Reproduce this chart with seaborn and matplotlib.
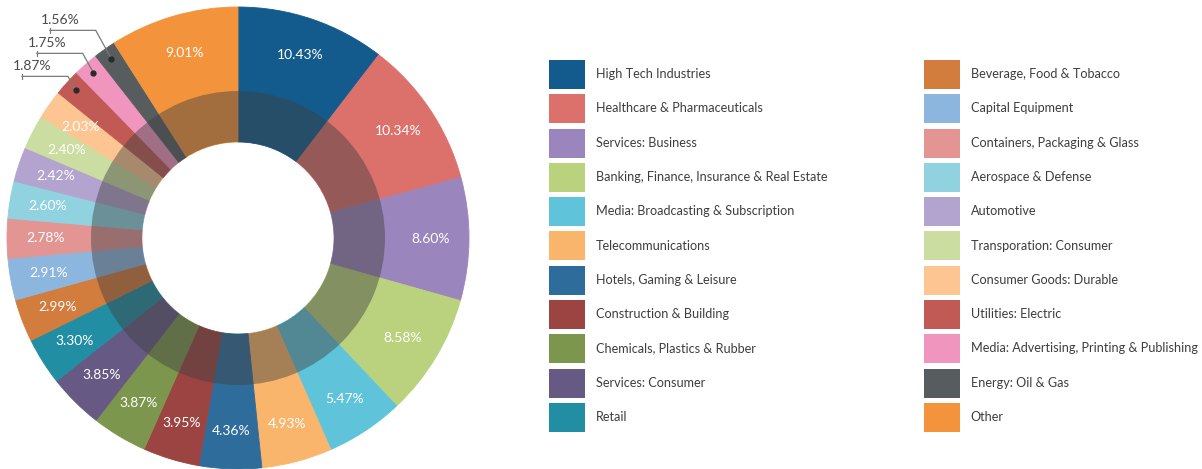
import numpy as np
import matplotlib
matplotlib.use("Agg")
import matplotlib.pyplot as plt
from matplotlib.patches import Patch
import seaborn as sns

# sectors in chart order (clockwise from 12 o'clock)
sectors = [
    "High Tech Industries", "Healthcare & Pharmaceuticals", "Services: Business",
    "Banking, Finance, Insurance & Real Estate", "Media: Broadcasting & Subscription",
    "Telecommunications", "Hotels, Gaming & Leisure", "Construction & Building",
    "Chemicals, Plastics & Rubber", "Services: Consumer", "Retail",
    "Beverage, Food & Tobacco", "Capital Equipment", "Containers, Packaging & Glass",
    "Aerospace & Defense", "Automotive", "Transporation: Consumer",
    "Consumer Goods: Durable", "Utilities: Electric",
    "Media: Advertising, Printing & Publishing", "Energy: Oil & Gas", "Other",
]
shares = [10.43, 10.34, 8.60, 8.58, 5.47, 4.93, 4.36, 3.95, 3.87, 3.85, 3.30,
          2.99, 2.91, 2.78, 2.60, 2.42, 2.40, 2.03, 1.87, 1.75, 1.56, 9.01]
sector_colors = [
    "#125b8c", "#dc716c", "#9b85bd", "#bad27e", "#5fc4da", "#f9b56b",
    "#2e6c9b", "#9b4441", "#7c974d", "#665a85", "#218ea3",
    "#d27c3e", "#8cb6de", "#e39594", "#90d2e0", "#b3a3cf", "#cbdda0",
    "#fdc592", "#c15a55", "#ef95be", "#575c5f", "#f3943d",
]
# small slices labelled outside with leader lines
outside = ["Utilities: Electric", "Media: Advertising, Printing & Publishing",
           "Energy: Oil & Gas"]

sns.set_theme(style="white")
plt.rcParams["font.family"] = ["Lato", "DejaVu Sans"]
palette = sns.color_palette(sector_colors)

W, H = 1202, 469
fig = plt.figure(figsize=(W / 100, H / 100), dpi=100)
R_PX = 231
ax = fig.add_axes([7 / W, 0, 2 * R_PX / W, 2 * R_PX / H])

hole = 96 / R_PX
mid_ring = 147 / R_PX

wedges, _ = ax.pie(shares, colors=palette, startangle=90, counterclock=False,
                   radius=1, wedgeprops=dict(width=1 - hole, linewidth=0.6))
for w in wedges:
    w.set_edgecolor(w.get_facecolor())

# darker inner band
ax.pie([1], colors=["#404040"], radius=mid_ring,
       wedgeprops=dict(width=mid_ring - hole, linewidth=0, alpha=0.45))

# percentage labels
cum = np.concatenate([[0], np.cumsum(shares)])
px = 1 / R_PX
level = None
for i, (name, v) in enumerate(zip(sectors, shares)):
    ang = np.deg2rad(90 - (cum[i] + v / 2) * 3.6)
    if name in outside:
        x0, y0 = 0.95 * np.cos(ang), 0.95 * np.sin(ang)
        # stack the callout levels 23px apart
        level = y0 + 14 * px if level is None else level + 23 * px
        xe = x0 - (level - y0) * 0.55
        xt = xe - 46 * px
        ax.plot([x0, xe, xt], [y0, level, level], color="#7a7a7a", lw=0.9,
                clip_on=False, solid_joinstyle="miter")
        ax.plot([xt, xt], [level - 2.5 * px, level + 2.5 * px], color="#7a7a7a",
                lw=0.9, clip_on=False)
        ax.plot(x0, y0, "o", ms=3.5, color="#2a2a2a", clip_on=False)
        ax.text(xt + 10 * px, level + 10 * px, f"{v:.2f}%", ha="center",
                va="center", color="#4a4a4a", fontsize=10)
    else:
        r = 0.835
        ax.text(r * np.cos(ang), r * np.sin(ang), f"{v:.2f}%", ha="center",
                va="center", color="white", fontsize=10)

ax.set_xlim(-1, 1)
ax.set_ylim(-1, 1)
ax.set_aspect("equal")
ax.axis("off")

# two-column legend
handles = [Patch(facecolor=c, edgecolor="none") for c in palette]
fs = 9.1
common = dict(frameon=False, fontsize=fs, handlelength=2.85, handleheight=3.15,
              labelspacing=0.42, handletextpad=0.85, borderpad=0, borderaxespad=0,
              loc="upper left", bbox_transform=fig.transFigure, labelcolor="#3d3d3d")
leg1 = fig.legend(handles[:11], sectors[:11],
                  bbox_to_anchor=(549 / W, 1 - 60 / H), **common)
leg2 = fig.legend(handles[11:], sectors[11:],
                  bbox_to_anchor=(924 / W, 1 - 60 / H), **common)

fig.savefig("out.png", dpi=100)
